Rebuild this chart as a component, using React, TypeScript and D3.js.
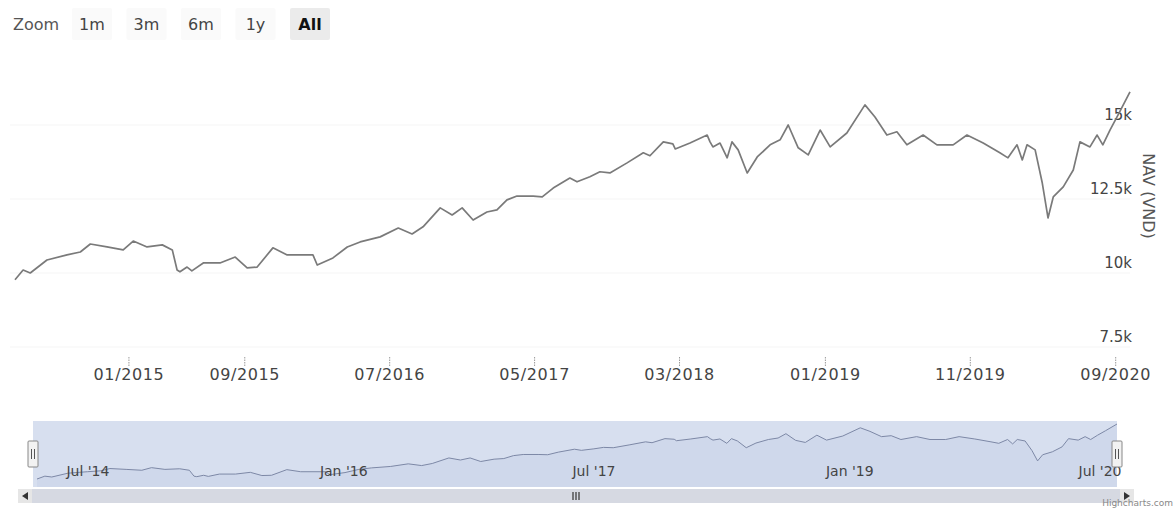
import { useEffect, useRef } from 'react'
import * as d3 from 'd3'

// NAV per unit (VND)
const dates = [
  '2014-05-07', '2014-05-24', '2014-06-08', '2014-07-13', '2014-08-24', '2014-09-21', '2014-10-12',
  '2014-11-16', '2014-12-20', '2015-01-10', '2015-02-08', '2015-03-12', '2015-04-02', '2015-04-12',
  '2015-04-18', '2015-05-03', '2015-05-13', '2015-06-06', '2015-07-11', '2015-08-12', '2015-09-06',
  '2015-09-27', '2015-10-30', '2015-11-29', '2016-01-22', '2016-01-31', '2016-03-04', '2016-04-03',
  '2016-04-30', '2016-06-11', '2016-07-19', '2016-08-17', '2016-09-09', '2016-10-15', '2016-11-09',
  '2016-11-30', '2016-12-23', '2017-01-21', '2017-02-11', '2017-03-04', '2017-03-25', '2017-04-28',
  '2017-05-17', '2017-06-09', '2017-07-14', '2017-07-29', '2017-08-25', '2017-09-15', '2017-10-06',
  '2017-11-11', '2017-12-15', '2017-12-29', '2018-01-26', '2018-02-15', '2018-02-20', '2018-03-23',
  '2018-04-28', '2018-05-04', '2018-05-10', '2018-05-25', '2018-06-09', '2018-06-19', '2018-07-02',
  '2018-07-21', '2018-08-11', '2018-09-07', '2018-09-28', '2018-10-15', '2018-11-05', '2018-11-26',
  '2018-12-21', '2019-01-11', '2019-02-15', '2019-03-25', '2019-04-15', '2019-05-10', '2019-05-31',
  '2019-06-21', '2019-07-25', '2019-08-23', '2019-09-26', '2019-10-25', '2019-11-28', '2020-01-02',
  '2020-01-19', '2020-02-07', '2020-02-18', '2020-02-28', '2020-03-16', '2020-03-31', '2020-04-12',
  '2020-04-23', '2020-05-14', '2020-06-04', '2020-06-18', '2020-07-09', '2020-07-24', '2020-08-05',
  '2020-08-20', '2020-09-06', '2020-10-01'
]
const navValues = [
  9770, 10100, 10000, 10440, 10610, 10710, 10980,
  10880, 10780, 11080, 10880, 10950, 10780, 10100,
  10040, 10200, 10070, 10340, 10340, 10540, 10170,
  10200, 10850, 10610, 10610, 10270, 10510, 10880,
  11050, 11220, 11520, 11320, 11560, 12200, 11960,
  12200, 11790, 12060, 12130, 12470, 12600, 12600,
  12570, 12870, 13210, 13080, 13250, 13420, 13380,
  13720, 14060, 13960, 14430, 14360, 14190, 14390,
  14660, 14430, 14260, 14390, 13890, 14430, 14160,
  13380, 13920, 14330, 14500, 15000, 14230, 13990,
  14830, 14260, 14730, 15680, 15270, 14660, 14770,
  14330, 14660, 14330, 14330, 14660, 14390, 14060,
  13890, 14330, 13820, 14330, 14160, 13040, 11860,
  12570, 12910, 13480, 14430, 14260, 14660, 14330,
  14830, 15340, 16120
]

const xTickDates = ['2015-01-01', '2015-09-01', '2016-07-01', '2017-05-01', '2018-03-01', '2019-01-01', '2019-11-01', '2020-09-01']
const yTickValues = [7500, 10000, 12500, 15000]
const navTickDates = ['2014-07-01', '2016-01-01', '2017-07-01', '2019-01-01', '2020-07-01']
const rangeButtons = ['1m', '3m', '6m', '1y', 'All']

const FONT = '"DejaVu Sans", Verdana, sans-serif'

export default function App() {
  const canvas = useRef<HTMLDivElement>(null)

  useEffect(() => {
    showCanvas()
  }, [])

  const showCanvas = () => {
    const width = 1175
    const height = 508
    const parse = d3.timeParse('%Y-%m-%d')
    const data = dates.map((d, i) => ({ date: parse(d) as Date, value: navValues[i] }))

    d3.select(canvas.current).selectAll('*').remove()
    const svg = d3.select(canvas.current)
      .append('svg')
      .attr('width', width)
      .attr('height', height)
      .style('display', 'block')
      .style('background', '#ffffff')
      .style('font-family', FONT)

    // range selector
    svg.append('text')
      .attr('x', 13).attr('y', 24)
      .attr('dominant-baseline', 'central')
      .attr('font-size', 16).attr('fill', '#555')
      .text('Zoom')

    const btn = svg.selectAll('g.btn').data(rangeButtons).join('g')
      .attr('class', 'btn')
      .attr('transform', (_, i) => `translate(${72 + i * 54.5}, 8)`)
    btn.append('rect')
      .attr('width', 40).attr('height', 32).attr('rx', 2)
      .attr('fill', d => (d === 'All' ? '#ebebeb' : '#fafafa'))
    btn.append('text')
      .attr('x', 20).attr('y', 16)
      .attr('text-anchor', 'middle').attr('dominant-baseline', 'central')
      .attr('font-size', 16)
      .attr('font-weight', d => (d === 'All' ? 'bold' : 'normal'))
      .attr('fill', d => (d === 'All' ? '#111' : '#444'))
      .text(d => d)

    // main chart
    const xScale = d3.scaleTime()
      .domain(d3.extent(data, d => d.date) as [Date, Date])
      .range([15, 1130])
    const yScale = d3.scaleLinear()
      .domain([7500, 15000])
      .range([347, 125])

    svg.append('g')
      .selectAll('line')
      .data(yTickValues)
      .join('line')
      .attr('x1', 10).attr('x2', 1130)
      .attr('y1', d => yScale(d)).attr('y2', d => yScale(d))
      .attr('stroke', '#f5f5f5')

    svg.append('g')
      .selectAll('text')
      .data(yTickValues)
      .join('text')
      .attr('x', 1132)
      .attr('y', d => yScale(d) - 10)
      .attr('text-anchor', 'end').attr('dominant-baseline', 'central')
      .attr('font-size', 15).attr('fill', '#444')
      .text(d => `${d / 1000}k`)

    svg.append('text')
      .attr('transform', 'translate(1148, 196) rotate(90)')
      .attr('text-anchor', 'middle').attr('dominant-baseline', 'central')
      .attr('font-size', 16).attr('fill', '#555')
      .text('NAV (VND)')

    const xTicks = xTickDates.map(d => parse(d) as Date)
    const fmt = d3.timeFormat('%m/%Y')
    const xAxis = svg.append('g')
    xAxis.selectAll('line')
      .data(xTicks)
      .join('line')
      .attr('x1', d => xScale(d)).attr('x2', d => xScale(d))
      .attr('y1', 357).attr('y2', 366)
      .attr('stroke', '#999').attr('stroke-dasharray', '1.5,1')
    xAxis.selectAll('text')
      .data(xTicks)
      .join('text')
      .attr('x', d => xScale(d)).attr('y', 374)
      .attr('text-anchor', 'middle').attr('dominant-baseline', 'central')
      .attr('font-size', 16).attr('letter-spacing', 0.6).attr('fill', '#444')
      .text(d => fmt(d))

    const line = d3.line<{ date: Date, value: number }>()
      .x(d => xScale(d.date))
      .y(d => yScale(d.value))
    svg.append('path')
      .datum(data)
      .attr('d', line)
      .attr('fill', 'none')
      .attr('stroke', '#7a7a7a')
      .attr('stroke-width', 1.7)
      .attr('stroke-linejoin', 'round')

    // navigator
    const navX = d3.scaleTime()
      .domain(d3.extent(data, d => d.date) as [Date, Date])
      .range([37, 1117])
    const navY = d3.scaleLinear()
      .domain(d3.extent(data, d => d.value) as [number, number])
      .range([479, 424])

    svg.append('rect')
      .attr('x', 33).attr('y', 421).attr('width', 1084).attr('height', 66)
      .attr('fill', 'rgba(102,133,194,0.26)')

    const navArea = d3.area<{ date: Date, value: number }>()
      .x(d => navX(d.date))
      .y0(487)
      .y1(d => navY(d.value))
    svg.append('path')
      .datum(data)
      .attr('d', navArea)
      .attr('fill', 'rgba(51,92,173,0.05)')
    svg.append('path')
      .datum(data)
      .attr('d', d3.line<{ date: Date, value: number }>().x(d => navX(d.date)).y(d => navY(d.value)))
      .attr('fill', 'none').attr('stroke', '#7d88a6').attr('stroke-width', 1)

    const navTicks = navTickDates.map(d => parse(d) as Date)
    const navFmt = d3.timeFormat("%b '%y")
    svg.append('g')
      .selectAll('text')
      .data(navTicks)
      .join('text')
      .attr('x', d => navX(d) + 4).attr('y', 471)
      .attr('dominant-baseline', 'central')
      .attr('font-size', 14).attr('fill', '#444')
      .text(d => navFmt(d))

    // handles
    const handles = svg.selectAll('g.handle').data([33, 1117]).join('g')
      .attr('class', 'handle')
      .attr('transform', d => `translate(${d - 5}, 441)`)
    handles.append('rect')
      .attr('width', 10).attr('height', 26).attr('rx', 1)
      .attr('fill', '#f2f2f2').attr('stroke', '#888')
    handles.selectAll('line').data([3.5, 6.5]).join('line')
      .attr('x1', d => d).attr('x2', d => d)
      .attr('y1', 8).attr('y2', 18)
      .attr('stroke', '#555')

    // scrollbar
    svg.append('rect')
      .attr('x', 18).attr('y', 489).attr('width', 1116).attr('height', 14)
      .attr('fill', '#f2f2f2')
    svg.append('rect')
      .attr('x', 32).attr('y', 489).attr('width', 1088).attr('height', 14)
      .attr('fill', '#d6d9e2')
    svg.selectAll('line.rifle').data([-3, 0, 3]).join('line')
      .attr('class', 'rifle')
      .attr('x1', d => 576 + d).attr('x2', d => 576 + d)
      .attr('y1', 492).attr('y2', 500)
      .attr('stroke', '#333').attr('stroke-width', 1.2)
    svg.append('rect')
      .attr('x', 18).attr('y', 489).attr('width', 14).attr('height', 14)
      .attr('fill', '#e6e6e6')
    svg.append('rect')
      .attr('x', 1120).attr('y', 489).attr('width', 14).attr('height', 14)
      .attr('fill', '#e6e6e6')
    svg.append('path')
      .attr('d', 'M28,492 L22,496 L28,500 Z')
      .attr('fill', '#333')
    svg.append('path')
      .attr('d', 'M1124,492 L1130,496 L1124,500 Z')
      .attr('fill', '#333')

    svg.append('text')
      .attr('x', 1173).attr('y', 503)
      .attr('text-anchor', 'end')
      .attr('dominant-baseline', 'central')
      .attr('font-size', 9).attr('fill', '#888')
      .text('Highcharts.com')
  }

  return (
    <div style={{ position: 'absolute', left: 0, top: 0 }}>
      <div className="canvas" ref={canvas}></div>
    </div>
  )
}
